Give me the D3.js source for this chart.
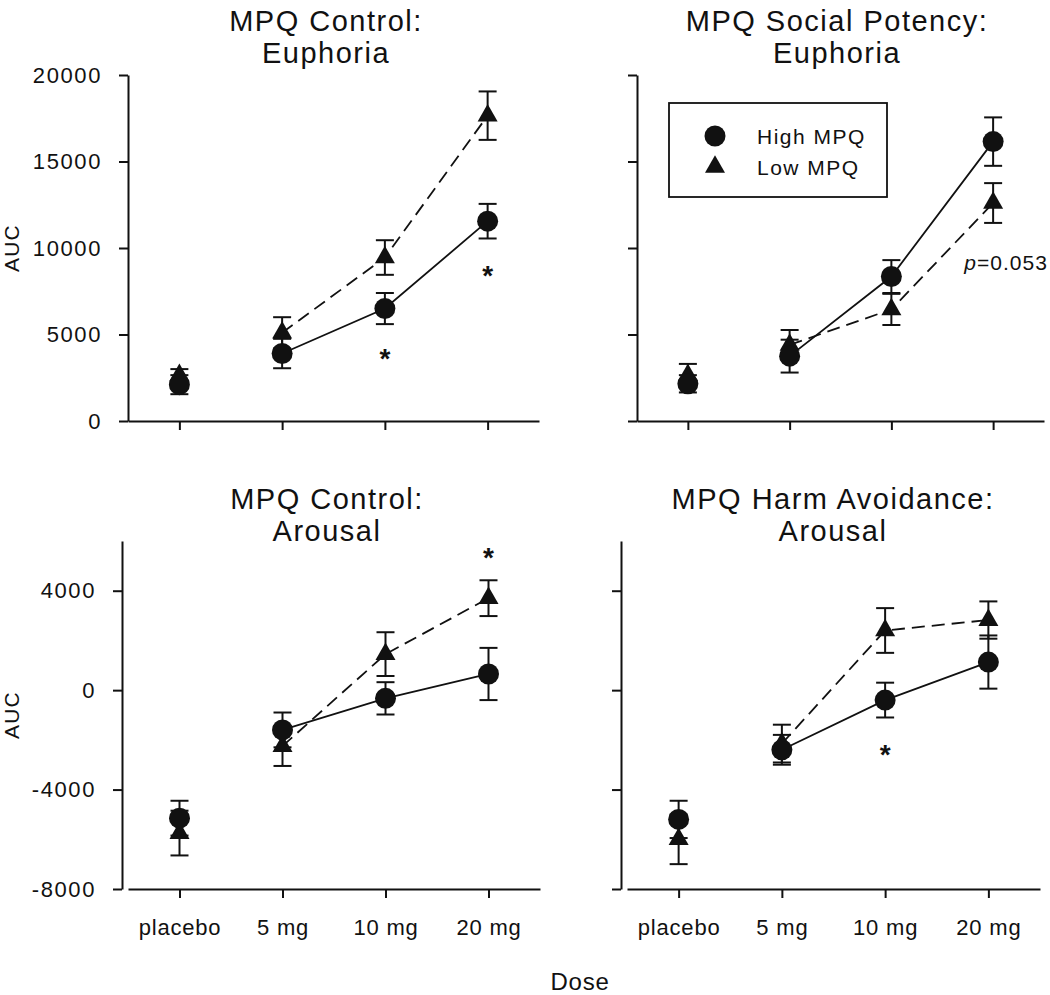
<!DOCTYPE html>
<html>
<head>
<meta charset="utf-8">
<script src="https://cdn.jsdelivr.net/npm/d3@7"></script>
<style>
  html, body { margin: 0; padding: 0; background: #fff; }
  svg { display: block; font-family: "Liberation Sans", Arial, sans-serif; }
</style>
</head>
<body>
<svg id="chart" width="1050" height="995"></svg>
<script>
// ---------------- DATA ----------------
const doses = ["placebo", "5 mg", "10 mg", "20 mg"];
const seriesNames = ["High MPQ", "Low MPQ"];

const eupTicks = [0, 5000, 10000, 15000, 20000];
const aroTicks = [-8000, -4000, 0, 4000];

// MPQ Control: Euphoria
const ctrlEuphHigh    = [2100, 3900, 6500, 11550];
const ctrlEuphHighErr = [550, 850, 900, 1000];
const ctrlEuphLow     = [2650, 5100, 9450, 17650];
const ctrlEuphLowErr  = [350, 900, 1000, 1400];

// MPQ Social Potency: Euphoria
const socEuphHigh    = [2150, 3750, 8350, 16150];
const socEuphHighErr = [500, 950, 950, 1400];
const socEuphLow     = [2650, 4400, 6450, 12600];
const socEuphLowErr  = [650, 860, 900, 1150];

// MPQ Control: Arousal
const ctrlAroHigh    = [-5150, -1600, -330, 650];
const ctrlAroHighErr = [700, 700, 650, 1050];
const ctrlAroLow     = [-5750, -2250, 1450, 3700];
const ctrlAroLowErr  = [900, 800, 880, 720];

// MPQ Harm Avoidance: Arousal
const haAroHigh    = [-5200, -2400, -400, 1130];
const haAroHighErr = [750, 600, 700, 1070];
const haAroLow     = [-6000, -2150, 2400, 2820];
const haAroLowErr  = [1000, 760, 900, 750];

// significance marks (dose, value position)
const ctrlEuphStars = [["10 mg", 3900], ["20 mg", 8650]];
const socEuphNote   = [["20 mg", 8730]];
const ctrlAroStars  = [["20 mg", 5500]];
const haAroStars    = [["10 mg", -2420]];

// ---------------- LAYOUT ----------------
const panels = [
  { title: ["MPQ Control:", "Euphoria"], high: ctrlEuphHigh, highErr: ctrlEuphHighErr, low: ctrlEuphLow, lowErr: ctrlEuphLowErr,
    yDomain: [0, 20000], ticks: eupTicks, yAxisX: 128, x0: 128, x1: 539, yTop: 75, yBot: 421, labelsY: true, labelsX: false,
    titleX: 326, titleY: [31, 63], stars: ctrlEuphStars },
  { title: ["MPQ Social Potency:", "Euphoria"], high: socEuphHigh, highErr: socEuphHighErr, low: socEuphLow, lowErr: socEuphLowErr,
    yDomain: [0, 20000], ticks: eupTicks, yAxisX: 637, x0: 637, x1: 1044, yTop: 75, yBot: 421, labelsY: false, labelsX: false,
    titleX: 837, titleY: [31, 63], stars: [], legend: true, note: socEuphNote },
  { title: ["MPQ Control:", "Arousal"], high: ctrlAroHigh, highErr: ctrlAroHighErr, low: ctrlAroLow, lowErr: ctrlAroLowErr,
    yDomain: [-8000, 6000], ticks: aroTicks, yAxisX: 122, x0: 128, x1: 540, yTop: 541, yBot: 889, labelsY: true, labelsX: true,
    titleX: 327, titleY: [509, 541], stars: ctrlAroStars },
  { title: ["MPQ Harm Avoidance:", "Arousal"], high: haAroHigh, highErr: haAroHighErr, low: haAroLow, lowErr: haAroLowErr,
    yDomain: [-8000, 6000], ticks: aroTicks, yAxisX: 621, x0: 627, x1: 1040, yTop: 541, yBot: 889, labelsY: false, labelsX: true,
    titleX: 833, titleY: [509, 541], stars: haAroStars }
];

const svg = d3.select("#chart");
const ink = "#111";

function triPath(w, h) {
  // centroid-centred triangle
  return `M0,${-2*h/3}L${w/2},${h/3}L${-w/2},${h/3}Z`;
}
const TRI = triPath(20, 17.5);
const R = 10.5;

panels.forEach(p => {
  const g = svg.append("g");
  const x = d3.scalePoint().domain(doses).range([p.x0, p.x1]).padding(0.5);
  const y = d3.scaleLinear().domain(p.yDomain).range([p.yBot, p.yTop]);

  // y axis
  const ya = d3.axisLeft(y).tickValues(p.ticks).tickSize(9).tickSizeOuter(0).tickPadding(17)
    .tickFormat(p.labelsY ? (d => String(d)) : () => "");
  const yg = g.append("g").attr("transform", `translate(${p.yAxisX},0)`).call(ya);
  // x axis
  const xa = d3.axisBottom(x).tickSize(9).tickSizeOuter(0).tickPadding(21)
    .tickFormat(p.labelsX ? (d => d) : () => "");
  const xg = g.append("g").attr("transform", `translate(0,${p.yBot})`).call(xa);
  [yg, xg].forEach(a => {
    a.selectAll("path.domain").attr("stroke", ink).attr("stroke-width", 2);
    a.selectAll(".tick line").attr("stroke", ink).attr("stroke-width", 2);
    a.selectAll(".tick text").attr("fill", ink).attr("font-size", 22).attr("letter-spacing", 1.6)
      .attr("font-family", '"Liberation Sans", Arial, sans-serif');
  });
  xg.selectAll(".tick text").attr("letter-spacing", 0.8);

  // y-axis title
  if (p.labelsY) {
    g.append("text").attr("transform", `translate(19,${(p.yTop + p.yBot) / 2}) rotate(-90)`)
      .attr("text-anchor", "middle").attr("font-size", 21).attr("letter-spacing", 1.2).attr("fill", ink).text("AUC");
  }

  // titles
  p.title.forEach((t, i) => {
    g.append("text").attr("x", p.titleX).attr("y", p.titleY[i]).attr("text-anchor", "middle")
      .attr("font-size", 29).attr("letter-spacing", 1.5).attr("fill", ink).text(t);
  });

  const line = d3.line().x((d, i) => x(doses[i + 1])).y(d => y(d));
  // connecting lines (placebo not connected)
  g.append("path").datum(p.low.slice(1)).attr("d", line).attr("fill", "none")
    .attr("stroke", ink).attr("stroke-width", 1.8).attr("stroke-dasharray", "13,7");
  g.append("path").datum(p.high.slice(1)).attr("d", line).attr("fill", "none")
    .attr("stroke", ink).attr("stroke-width", 1.8);

  // error bars
  const drawErr = (vals, errs) => {
    vals.forEach((v, i) => {
      const cx = x(doses[i]);
      const eg = g.append("g").attr("stroke", ink).attr("stroke-width", 2);
      eg.append("line").attr("x1", cx).attr("x2", cx).attr("y1", y(v + errs[i])).attr("y2", y(v - errs[i]));
      [v + errs[i], v - errs[i]].forEach(e => {
        eg.append("line").attr("x1", cx - 9).attr("x2", cx + 9).attr("y1", y(e)).attr("y2", y(e));
      });
    });
  };
  drawErr(p.high, p.highErr);
  drawErr(p.low, p.lowErr);

  // markers
  g.selectAll(null).data(p.low).join("path")
    .attr("d", TRI).attr("transform", (d, i) => `translate(${x(doses[i])},${y(d)})`).attr("fill", ink);
  g.selectAll(null).data(p.high).join("circle")
    .attr("cx", (d, i) => x(doses[i])).attr("cy", d => y(d)).attr("r", R).attr("fill", ink);

  // stars
  p.stars.forEach(([dose, v]) => {
    g.append("text").attr("x", x(dose)).attr("y", y(v) + 14).attr("text-anchor", "middle")
      .attr("font-size", 28).attr("font-weight", "bold").attr("fill", ink).text("*");
  });

  if (p.note) {
    p.note.forEach(([dose, v]) => {
      const t = g.append("text").attr("x", x(dose) + 13).attr("y", y(v)).attr("text-anchor", "middle")
        .attr("font-size", 21).attr("letter-spacing", 1).attr("fill", ink);
      t.append("tspan").attr("font-style", "italic").text("p");
      t.append("tspan").text("=0.053");
    });
  }

  if (p.legend) {
    const lg = g.append("g");
    lg.append("rect").attr("x", 669).attr("y", 103).attr("width", 218).attr("height", 94)
      .attr("fill", "#fff").attr("stroke", ink).attr("stroke-width", 1.8);
    lg.append("circle").attr("cx", 715).attr("cy", 136).attr("r", R).attr("fill", ink);
    lg.append("path").attr("d", TRI).attr("transform", "translate(715,167)").attr("fill", ink);
    seriesNames.forEach((n, i) => {
      lg.append("text").attr("x", 757).attr("y", 144 + i * 31).attr("font-size", 21)
        .attr("letter-spacing", 1.5).attr("fill", ink).text(n);
    });
  }
});

// shared x-axis title
svg.append("text").attr("x", 580).attr("y", 990).attr("text-anchor", "middle")
  .attr("font-size", 24).attr("letter-spacing", 0.8).attr("fill", ink).text("Dose");
</script>
</body>
</html>
